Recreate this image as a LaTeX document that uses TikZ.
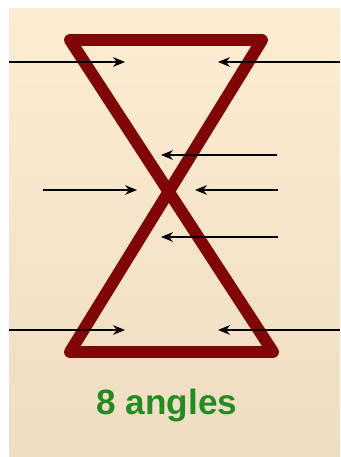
\documentclass[tikz,border=0pt]{standalone}
\usepackage{fontspec}
\setmainfont{Liberation Sans}
\usetikzlibrary{arrows.meta}
\definecolor{paper}{RGB}{252,236,210}
\definecolor{paperdark}{RGB}{238,221,194}
\definecolor{maroon}{RGB}{128,6,6}
\definecolor{leaf}{RGB}{34,140,34}
\begin{document}
\begin{tikzpicture}[x=0.025cm, y=-0.025cm,
    hourglass/.style={draw=maroon, line width=8.5pt, line join=round},
    ray/.style={draw=black, line width=0.8pt, -{Stealth[length=3mm, width=2.4mm]}},
    caption/.style={text=leaf, font=\bfseries\fontsize{25}{30}\selectfont}]
    \useasboundingbox (0,0) rectangle (340,457);
    \shade[top color=paper, bottom color=paperdark] (9,9) rectangle (340,457);

    % corners of the hourglass
    \coordinate (tl) at (70,40);
    \coordinate (tr) at (262,40);
    \coordinate (bl) at (70,352);
    \coordinate (br) at (273,352);
    \draw[hourglass] (tl) -- (tr) -- (bl) -- (br) -- cycle;

    % arrows
    \coordinate (a1) at (9,62);    \coordinate (b1) at (125,62);
    \coordinate (a2) at (340,62);  \coordinate (b2) at (218,62);
    \coordinate (a3) at (277,155); \coordinate (b3) at (161,155);
    \coordinate (a4) at (43,190);  \coordinate (b4) at (137,190);
    \coordinate (a5) at (278,190); \coordinate (b5) at (195,190);
    \coordinate (a6) at (278,237); \coordinate (b6) at (161,237);
    \coordinate (a7) at (9,330);   \coordinate (b7) at (125,330);
    \coordinate (a8) at (340,330); \coordinate (b8) at (218,330);
    \draw[ray] (a1) -- (b1);
    \draw[ray] (a2) -- (b2);
    \draw[ray] (a3) -- (b3);
    \draw[ray] (a4) -- (b4);
    \draw[ray] (a5) -- (b5);
    \draw[ray] (a6) -- (b6);
    \draw[ray] (a7) -- (b7);
    \draw[ray] (a8) -- (b8);

    \node[caption] (count) at (167,405) {8 angles};
\end{tikzpicture}
\end{document}
